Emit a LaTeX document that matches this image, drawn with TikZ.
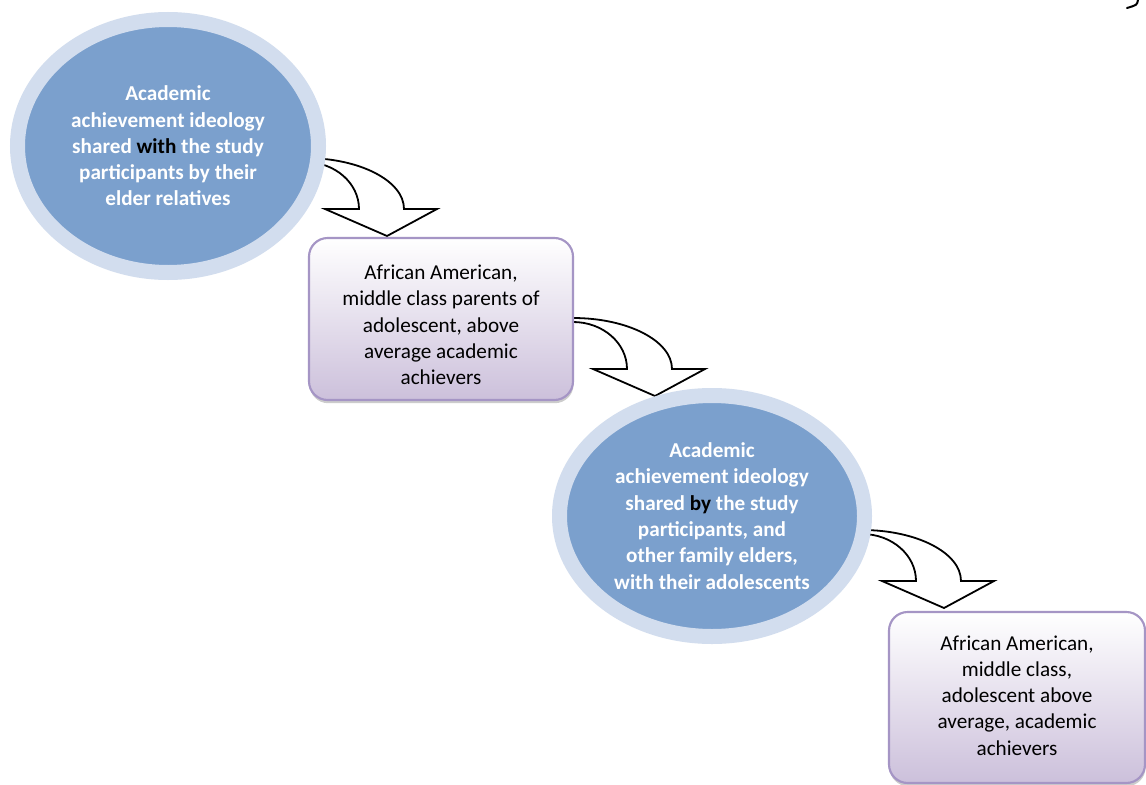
\documentclass[tikz,border=0pt]{standalone}
\usepackage{fontspec}
\setmainfont{Carlito}
\usetikzlibrary{shapes.geometric,shadows,calc,backgrounds}
\definecolor{ringblue}{HTML}{D2DDEE}
\definecolor{coreblue}{HTML}{7BA0CD}
\definecolor{boxedge}{HTML}{A595C5}
\definecolor{boxbot}{HTML}{CCC0DB}
\newcommand\fsz{\fontsize{15.9}{19.7}\selectfont}
\tikzset{
  ringnode/.style={ellipse, fill=coreblue, draw=ringblue, line width=11.25pt,
    inner sep=0pt, outer sep=0pt, text=white, font=\bfseries\fsz, align=center},
  pbox/.style={rectangle, rounded corners=14pt, draw=boxedge, line width=1.6pt,
    top color=white, bottom color=boxbot,
    inner sep=0pt, outer sep=0pt,
    drop shadow={shadow xshift=0.4pt, shadow yshift=-2.4pt, opacity=0.4}},
  boxtext/.style={align=center, font=\fsz, inner sep=0pt},
  blockarrow/.style={fill=white, draw=black, line width=1.35pt, line join=miter},
  cdarrow/.pic={
    \path[blockarrow] (-30,-51) -- (-20,-51)
      .. controls (34.7,-51) and (79,-28.2) .. (79,0)
      -- (112,0) -- (62,27) -- (0,0) -- (34,0)
      .. controls (34,-26) and (9.8,-47) .. (-20,-47)
      -- (-30,-47) -- cycle;
  }
}
\begin{document}
\begin{tikzpicture}[x=0.75pt,y=-0.75pt]
\useasboundingbox (0,0) rectangle (1146,785);

\node[ringnode, minimum width=225.75pt, minimum height=189.75pt] (e1) at (168,146)
  {Academic\\achievement ideology\\shared \textcolor{black}{with} the study\\participants by their\\elder relatives};
\node[pbox, minimum width=198pt, minimum height=121.5pt] (b1) at (441,319) {};
\node[boxtext] (t1) at ($(b1.center)+(0,6)$)
  {African American,\\middle class parents of\\adolescent, above\\average academic\\achievers};
\node[ringnode, minimum width=228.75pt, minimum height=180.75pt] (e2) at (712,516)
  {Academic\\achievement ideology\\shared \textcolor{black}{by} the study\\participants, and\\other family elders,\\with their adolescents};
\node[pbox, minimum width=192pt, minimum height=128.25pt] (b2) at (1017,697.5) {};
\node[boxtext] (t2) at ($(b2.center)+(0,-2)$)
  {African American,\\middle class,\\adolescent above\\average, academic\\achievers};

\begin{scope}[on background layer]
  \fill[white] (0,0) rectangle (1146,785);
  \pic (a1) at ($(e1.east)+(6.5,63)$) {cdarrow};
  \pic (a2) at ($(b1.east)+(20,50)$) {cdarrow};
  \pic (a3) at ($(e2.east)+(17.5,65)$) {cdarrow};
\end{scope}

\draw[line width=1.5pt, line cap=round] (1138,0) .. controls (1137,5) .. (1127,8);
\end{tikzpicture}
\end{document}
